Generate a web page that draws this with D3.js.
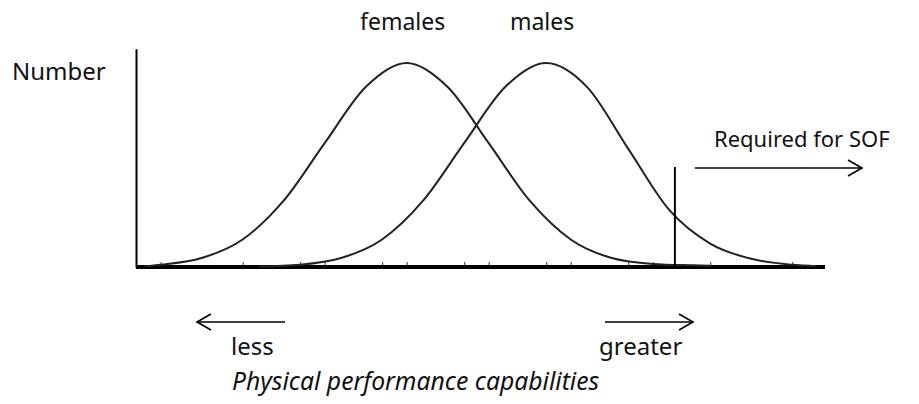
<!DOCTYPE html>
<html>
<head>
<meta charset="utf-8">
<script src="https://cdn.jsdelivr.net/npm/d3@7"></script>
<style>
  body { margin: 0; background: #fff; }
  svg text { font-family: "Noto Sans", "Open Sans", sans-serif; fill: #111; }
</style>
</head>
<body>
<div id="chart"></div>
<script>
// curves (x in performance units, y as % of peak)
var femaleX = [0.1, 0.3, 0.8, 1.3, 1.8, 2.3, 2.8, 3.3, 3.8, 4.3, 4.8, 5.3, 5.8, 6.3, 6.8, 7.0];
var femaleY = [0.3, 1.1, 4.4, 13.5, 32.5, 60.7, 88.2, 100, 88.2, 60.7, 32.5, 13.5, 4.4, 1.5, 0.8, 0.6];
var maleX = [1.5, 2.0, 2.5, 3.0, 3.5, 4.0, 4.5, 5.0, 5.5, 6.0, 6.5, 7.0, 7.5, 8.0, 8.3];
var maleY = [0.2, 1.1, 4.4, 13.5, 32.5, 60.7, 88.2, 100, 88.2, 58, 28, 11.5, 4.0, 1.1, 0.4];

var femaleTicks = [0.3, 1.3, 2.3, 3.3, 4.3, 5.3, 6.3];
var maleTicks = [2.0, 3.0, 4.0, 5.0, 6.0, 7.0, 8.0];

var seriesLabels = ["females", "males"];
var requiredCutoff = 6.57;
var requiredLabel = "Required for SOF";
var yLabel = "Number";
var xLabel = "Physical performance capabilities";
var lowLabel = "less";
var highLabel = "greater";

var myApp = {};
myApp.w = 919;
myApp.h = 404;

myApp.run = function () {
    let svg = d3.select("#chart").append("svg")
        .attr("width", myApp.w)
        .attr("height", myApp.h);

    let x = d3.scaleLinear().domain([0, 8.4]).range([136, 825]);
    let y = d3.scaleLinear().domain([0, 100]).range([267, 63]);

    // y axis, just a bare line
    svg.append("g")
        .attr("transform", "translate(" + x(0) + ",0)")
        .call(d3.axisLeft(d3.scaleLinear().domain([0, 107]).range([y(0), y(107)])).ticks(0).tickSizeOuter(0))
        .select(".domain").attr("stroke", "#000").attr("stroke-width", 2);

    // small ticks for each distribution
    [femaleTicks, maleTicks].forEach(function (t) {
        let g = svg.append("g")
            .attr("transform", "translate(0," + y(0) + ")")
            .call(d3.axisTop(x).tickValues(t).tickSize(5).tickFormat(""));
        g.select(".domain").remove();
        g.selectAll("line").attr("stroke", "#555").attr("stroke-width", 1.2);
    });

    // thick baseline
    svg.append("line")
        .attr("x1", x(0)).attr("x2", x(8.4))
        .attr("y1", y(0)).attr("y2", y(0))
        .attr("stroke", "#000").attr("stroke-width", 4);

    let line = d3.line()
        .x(d => x(d[0]))
        .y(d => y(d[1]))
        .curve(d3.curveMonotoneX);

    let curves = [d3.zip(femaleX, femaleY), d3.zip(maleX, maleY)];
    svg.selectAll("path.dist")
        .data(curves)
        .enter().append("path")
        .attr("class", "dist")
        .attr("fill", "none")
        .attr("stroke", "#222")
        .attr("stroke-width", 2)
        .attr("d", line);

    // series labels above peaks
    let peaks = [femaleX[femaleY.indexOf(100)], maleX[maleY.indexOf(100)]];
    svg.selectAll("text.series")
        .data(seriesLabels)
        .enter().append("text")
        .attr("class", "series")
        .attr("x", (d, i) => x(peaks[i]) - 4)
        .attr("y", 30)
        .attr("text-anchor", "middle")
        .attr("font-size", "23px")
        .text(d => d);

    svg.append("text")
        .attr("x", 12).attr("y", 80)
        .attr("font-size", "24px")
        .text(yLabel);

    // cutoff line + arrow
    svg.append("line")
        .attr("x1", x(requiredCutoff)).attr("x2", x(requiredCutoff))
        .attr("y1", y(0)).attr("y2", y(49))
        .attr("stroke", "#000").attr("stroke-width", 2);

    function arrow(x1, x2, yy) {
        let dir = x2 > x1 ? -1 : 1;
        svg.append("line")
            .attr("x1", x1).attr("x2", x2).attr("y1", yy).attr("y2", yy)
            .attr("stroke", "#000").attr("stroke-width", 1.6);
        svg.append("path")
            .attr("d", "M" + (x2 + dir * 14) + "," + (yy - 8) + "L" + x2 + "," + yy + "L" + (x2 + dir * 14) + "," + (yy + 8))
            .attr("fill", "none").attr("stroke", "#000").attr("stroke-width", 1.6);
    }

    arrow(x(requiredCutoff) + 20, 862, 168);
    svg.append("text")
        .attr("x", 714).attr("y", 147)
        .attr("font-size", "22px")
        .text(requiredLabel);

    arrow(285, 197, 322);
    arrow(605, 693, 322);

    svg.append("text")
        .attr("x", 231).attr("y", 355)
        .attr("font-size", "24px")
        .text(lowLabel);
    svg.append("text")
        .attr("x", 599).attr("y", 355)
        .attr("font-size", "24px")
        .text(highLabel);

    svg.append("text")
        .attr("x", 232).attr("y", 390)
        .attr("font-size", "24.7px")
        .attr("font-style", "italic")
        .text(xLabel);
}

window.onload = myApp.run;
</script>
</body>
</html>
